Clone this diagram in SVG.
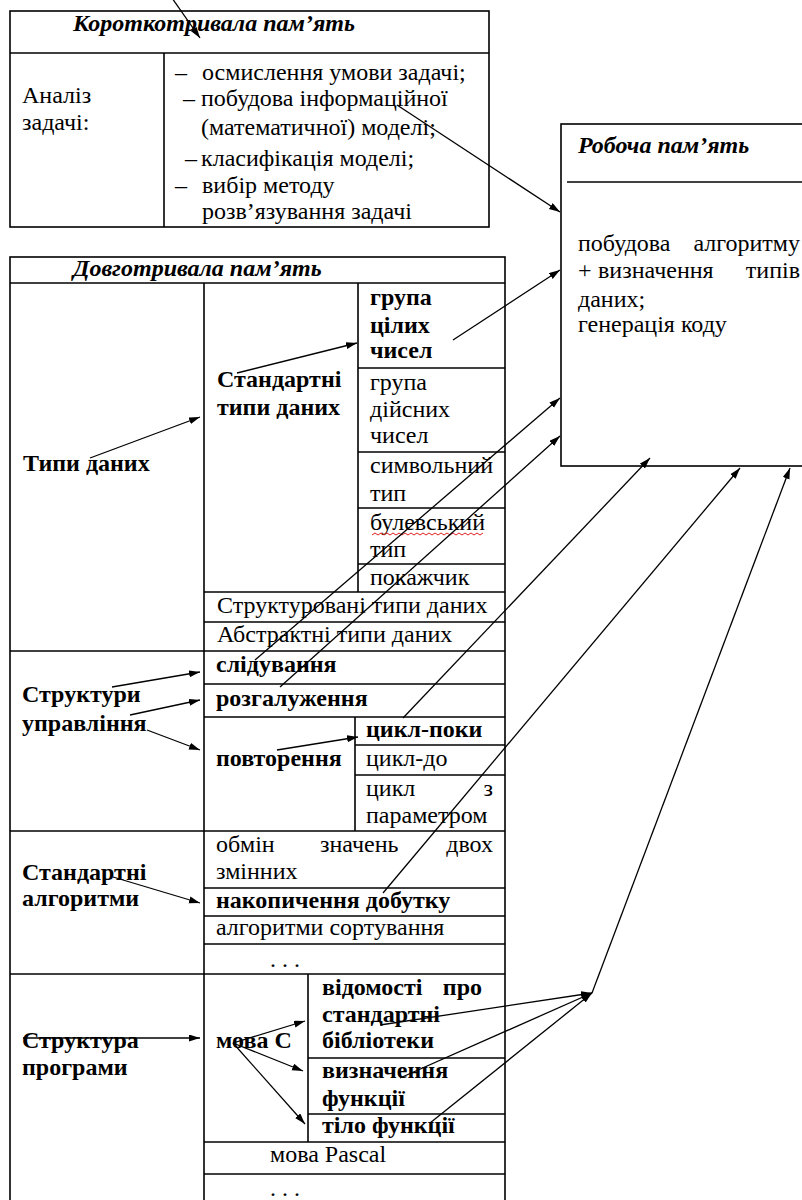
<svg xmlns="http://www.w3.org/2000/svg" width="802" height="1200" viewBox="0 0 802 1200">
<defs>
<marker id="ah" markerUnits="userSpaceOnUse" markerWidth="12" markerHeight="8" refX="11" refY="3.5" orient="auto">
<path d="M0,0 L11,3.5 L0,7 z" fill="#000"/>
</marker>
<style>
.t{font-family:'Liberation Serif','DejaVu Serif',serif;font-size:24px;fill:#000}
.b{font-weight:bold}
.bi{font-weight:bold;font-style:italic}
.e{text-anchor:end}
.box{fill:#fff;stroke:#000;stroke-width:1.6}
.ln{stroke:#000;stroke-width:1.6;fill:none}
.c{stroke:#000;stroke-width:1.3;fill:none;marker-end:url(#ah)}
</style>
</defs>
<rect width="802" height="1200" fill="#fff"/>

<g id="short-term-memory">
<rect class="box" x="10" y="11" width="479" height="216"/>
<line class="ln" x1="10" y1="53" x2="489" y2="53"/>
<line class="ln" x1="164" y1="53" x2="164" y2="227"/>
<text class="t bi" x="73" y="31">Короткотривала пам’ять</text>
<text class="t" x="22" y="103">Аналіз</text>
<text class="t" x="22" y="130">задачі:</text>
<text class="t" x="175" y="80">–</text><text class="t" x="202" y="80">осмислення умови задачі;</text>
<text class="t" x="183" y="106">–</text><text class="t" x="201" y="106">побудова інформаційної</text>
<text class="t" x="201" y="135">(математичної) моделі;</text>
<text class="t" x="185" y="166">–</text><text class="t" x="201" y="166">класифікація моделі;</text>
<text class="t" x="175" y="193">–</text><text class="t" x="202" y="193">вибір методу</text>
<text class="t" x="202" y="219">розв’язування задачі</text>
</g>

<g id="working-memory">
<rect class="box" x="561" y="124" width="260" height="342"/>
<line class="ln" x1="567" y1="182" x2="802" y2="182"/>
<text class="t bi" x="578" y="153">Робоча пам’ять</text>
<text class="t" x="578" y="251">побудова</text><text class="t e" x="800" y="251">алгоритму</text>
<text class="t" x="578" y="278">+</text><text class="t" x="598" y="278">визначення</text><text class="t e" x="800" y="278">типів</text>
<text class="t" x="578" y="307">даних;</text>
<text class="t" x="578" y="332">генерація коду</text>
</g>

<g id="long-term-memory">
<rect class="box" x="10" y="257" width="495" height="960"/>
<line class="ln" x1="10" y1="283" x2="505" y2="283"/>
<text class="t bi" x="73" y="276">Довготривала пам’ять</text>
</g>

<g id="data-types">
<line class="ln" x1="204" y1="283" x2="204" y2="1200"/>
<line class="ln" x1="358" y1="283" x2="358" y2="592"/>
<line class="ln" x1="358" y1="368" x2="505" y2="368"/>
<line class="ln" x1="358" y1="452" x2="505" y2="452"/>
<line class="ln" x1="358" y1="508" x2="505" y2="508"/>
<line class="ln" x1="358" y1="564" x2="505" y2="564"/>
<line class="ln" x1="204" y1="592" x2="505" y2="592"/>
<line class="ln" x1="204" y1="622" x2="505" y2="622"/>
<line class="ln" x1="10" y1="651" x2="505" y2="651"/>
<text class="t b" x="23" y="471">Типи даних</text>
<text class="t b" x="217" y="387">Стандартні</text>
<text class="t b" x="217" y="415">типи даних</text>
<text class="t b" x="370" y="305">група</text>
<text class="t b" x="370" y="333">цілих</text>
<text class="t b" x="370" y="358">чисел</text>
<text class="t" x="370" y="390">група</text>
<text class="t" x="370" y="417">дійсних</text>
<text class="t" x="370" y="443">чисел</text>
<text class="t" x="370" y="473">символьний</text>
<text class="t" x="370" y="501">тип</text>
<text class="t" x="370" y="530">булевський</text>
<path d="M372,535 l3,-2 l3,2 l3,-2 l3,2 l3,-2 l3,2 l3,-2 l3,2 l3,-2 l3,2 l3,-2 l3,2 l3,-2 l3,2 l3,-2 l3,2 l3,-2 l3,2 l3,-2 l3,2 l3,-2 l3,2 l3,-2 l3,2 l3,-2 l3,2 l3,-2 l3,2 l3,-2 l3,2 l3,-2 l3,2 l3,-2 l3,2 l3,-2 l3,2 l3,-2" fill="none" stroke="#e02020" stroke-width="1"/>
<text class="t" x="370" y="557">тип</text>
<text class="t" x="370" y="585">покажчик</text>
<text class="t" x="217" y="613">Структуровані типи даних</text>
<text class="t" x="217" y="642">Абстрактні типи даних</text>
</g>

<g id="control-structures">
<line class="ln" x1="204" y1="684" x2="505" y2="684"/>
<line class="ln" x1="204" y1="717" x2="505" y2="717"/>
<line class="ln" x1="355" y1="717" x2="355" y2="831"/>
<line class="ln" x1="355" y1="745" x2="505" y2="745"/>
<line class="ln" x1="355" y1="775" x2="505" y2="775"/>
<line class="ln" x1="10" y1="831" x2="505" y2="831"/>
<text class="t b" x="22" y="702">Структури</text>
<text class="t b" x="22" y="731">управління</text>
<text class="t b" x="216" y="672">слідування</text>
<text class="t b" x="216" y="706">розгалуження</text>
<text class="t b" x="216" y="766">повторення</text>
<text class="t b" x="366" y="737">цикл-поки</text>
<text class="t" x="366" y="766">цикл-до</text>
<text class="t" x="366" y="796">цикл</text><text class="t e" x="493" y="796">з</text>
<text class="t" x="366" y="823">параметром</text>
</g>

<g id="standard-algorithms">
<line class="ln" x1="204" y1="888" x2="505" y2="888"/>
<line class="ln" x1="204" y1="916" x2="505" y2="916"/>
<line class="ln" x1="204" y1="944" x2="505" y2="944"/>
<line class="ln" x1="10" y1="974" x2="505" y2="974"/>
<text class="t b" x="22" y="880">Стандартні</text>
<text class="t b" x="22" y="906">алгоритми</text>
<text class="t" x="216" y="852">обмін</text><text class="t" x="320" y="852">значень</text><text class="t e" x="493" y="852">двох</text>
<text class="t" x="216" y="879">змінних</text>
<text class="t b" x="216" y="908">накопичення добутку</text>
<text class="t" x="216" y="935">алгоритми сортування</text>
<text class="t" x="270" y="967">. . .</text>
</g>

<g id="program-structure">
<line class="ln" x1="308" y1="974" x2="308" y2="1142"/>
<line class="ln" x1="308" y1="1058" x2="505" y2="1058"/>
<line class="ln" x1="308" y1="1114" x2="505" y2="1114"/>
<line class="ln" x1="204" y1="1142" x2="505" y2="1142"/>
<line class="ln" x1="204" y1="1174" x2="505" y2="1174"/>
<text class="t b" x="22" y="1048">Структура</text>
<text class="t b" x="22" y="1075">програми</text>
<text class="t b" x="216" y="1048">мова C</text>
<text class="t b" x="322" y="995">відомості</text><text class="t b e" x="482" y="995">про</text>
<text class="t b" x="322" y="1022">стандартні</text>
<text class="t b" x="322" y="1048">бібліотеки</text>
<text class="t b" x="322" y="1078">визначення</text>
<text class="t b" x="322" y="1106">функції</text>
<text class="t b" x="322" y="1133">тіло функції</text>
<text class="t" x="270" y="1162">мова Pascal</text>
<text class="t" x="270" y="1196">. . .</text>
</g>

<g id="connectors">
<line class="c" x1="172" y1="-2" x2="200" y2="38"/>
<line class="c" x1="397" y1="105" x2="560" y2="212"/>
<line class="c" x1="453" y1="340" x2="560" y2="270"/>
<line class="c" x1="90" y1="458" x2="200" y2="417"/>
<line class="c" x1="237" y1="373" x2="357" y2="343"/>
<line class="c" x1="255" y1="660" x2="560" y2="398"/>
<line class="c" x1="280" y1="687" x2="560" y2="436"/>
<line class="c" x1="403" y1="718" x2="650" y2="458"/>
<line class="c" x1="383" y1="893" x2="740" y2="468"/>
<line class="c" x1="112" y1="687" x2="200" y2="672"/>
<line class="c" x1="130" y1="715" x2="200" y2="700"/>
<line class="c" x1="147" y1="730" x2="200" y2="750"/>
<line class="c" x1="277" y1="750" x2="358" y2="737"/>
<line class="c" x1="113" y1="877" x2="200" y2="903"/>
<line class="c" x1="23" y1="1038" x2="200" y2="1038"/>
<line class="c" x1="233" y1="1043" x2="305" y2="1021"/>
<line class="c" x1="233" y1="1043" x2="303" y2="1071"/>
<line class="c" x1="233" y1="1043" x2="305" y2="1124"/>
<line class="c" x1="380" y1="1025" x2="592" y2="993"/>
<line class="c" x1="400" y1="1078" x2="592" y2="993"/>
<line class="c" x1="430" y1="1123" x2="592" y2="993"/>
<line class="c" x1="592" y1="993" x2="790" y2="468"/>
</g>
</svg>
